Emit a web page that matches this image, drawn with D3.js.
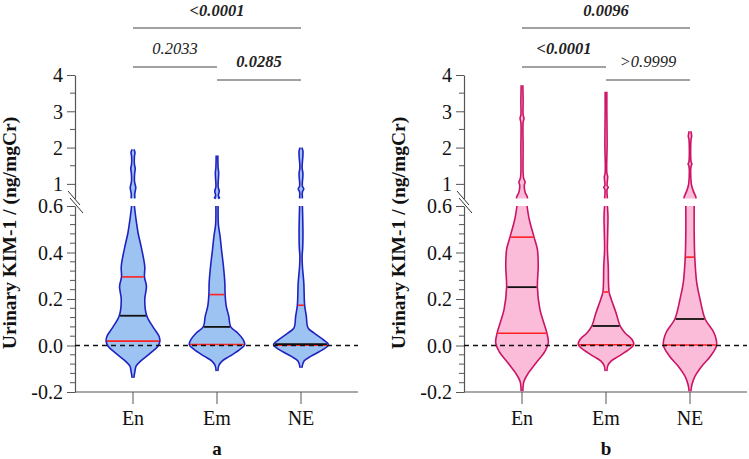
<!DOCTYPE html>
<html>
<head>
<meta charset="utf-8">
<script src="https://cdn.jsdelivr.net/npm/d3@7"></script>
<style>
  html, body { margin: 0; padding: 0; background: #fff; }
  svg { display: block; }
  text { font-family: "Liberation Serif", "Times New Roman", Times, serif; }
</style>
</head>
<body>
<svg id="chart" width="749" height="459"></svg>
<script>
// ---------------- DATA ----------------
const categories = ["En", "Em", "NE"];
const panelLabels = ["a", "b"];
const yTitle = "Urinary KIM-1 / (ng/mgCr)";

const upperTicks = [1, 2, 3, 4];
const upperMinorTicks = [1.5, 2.5, 3.5];
const lowerTicks = [-0.2, 0.0, 0.2, 0.4, 0.6];
const lowerTickLabels = ["-0.2", "0.0", "0.2", "0.4", "0.6"];
const upperTickLabels = ["1", "2", "3", "4"];

// violin profiles: [value, relative density]
const profileA_En = [[-0.139,0.03],[-0.11,0.07],[-0.089,0.11],[-0.067,0.27],[-0.032,0.63],[-0.003,0.89],[0.019,0.96],[0.04,0.93],[0.077,0.73],[0.128,0.49],[0.198,0.42],[0.254,0.48],[0.295,0.41],[0.34,0.42],[0.42,0.30],[0.485,0.18],[0.55,0.10],[0.6,0.05]];
const profileA_Em = [[-0.11,0.03],[-0.085,0.07],[-0.067,0.18],[-0.046,0.46],[-0.017,0.82],[0.004,0.99],[0.026,0.93],[0.054,0.74],[0.08,0.49],[0.126,0.42],[0.169,0.33],[0.219,0.29],[0.27,0.28],[0.341,0.23],[0.413,0.16],[0.47,0.11],[0.52,0.05],[0.6,0.04]];
const profileA_NE = [[-0.096,0.03],[-0.067,0.11],[-0.046,0.36],[-0.017,0.79],[0.003,0.98],[0.026,0.78],[0.054,0.46],[0.076,0.25],[0.126,0.19],[0.173,0.13],[0.27,0.10],[0.341,0.05],[0.384,0.04],[0.42,0.06],[0.486,0.07],[0.6,0.05]];
const profileA_En_up = [[0.6,0.07],[0.7,0.06],[0.8,0.08],[0.9,0.10],[1.0,0.07],[1.1,0.05],[1.3,0.06],[1.42,0.08],[1.55,0.05],[1.75,0.05],[1.87,0.07],[1.95,0.03]];
const profileA_Em_up = [[0.6,0.04],[0.62,0.09],[0.67,0.05],[0.8,0.08],[0.92,0.04],[1.3,0.06],[1.45,0.04],[1.78,0.03]];
const profileA_NE_up = [[0.6,0.05],[0.78,0.05],[0.86,0.10],[0.94,0.05],[1.28,0.07],[1.45,0.04],[1.9,0.07],[2.0,0.03]];

const profileB_En = [[-0.197,0.03],[-0.154,0.07],[-0.118,0.23],[-0.075,0.50],[-0.025,0.82],[0.011,0.94],[0.053,0.89],[0.097,0.78],[0.155,0.64],[0.251,0.55],[0.341,0.58],[0.413,0.55],[0.466,0.43],[0.542,0.26],[0.6,0.18]];
const profileB_Em = [[-0.11,0.03],[-0.085,0.07],[-0.067,0.18],[-0.046,0.46],[-0.017,0.82],[0.003,0.99],[0.026,0.93],[0.054,0.68],[0.083,0.51],[0.14,0.36],[0.198,0.19],[0.23,0.11],[0.27,0.09],[0.341,0.08],[0.413,0.05],[0.484,0.06],[0.556,0.07],[0.6,0.05]];
const profileB_NE = [[-0.197,0.03],[-0.168,0.07],[-0.132,0.18],[-0.089,0.42],[-0.046,0.73],[0.002,0.95],[0.054,0.86],[0.114,0.54],[0.198,0.36],[0.27,0.24],[0.38,0.17],[0.484,0.15],[0.6,0.15]];
const profileB_En_up = [[0.6,0.20],[0.66,0.18],[0.75,0.12],[0.85,0.09],[0.95,0.08],[1.05,0.11],[1.15,0.06],[1.3,0.04],[2.0,0.04],[2.7,0.04],[2.8,0.07],[2.9,0.04],[3.3,0.04],[3.72,0.03]];
const profileB_Em_up = [[0.6,0.05],[0.85,0.04],[0.9,0.08],[0.96,0.04],[1.2,0.06],[1.3,0.03],[2.1,0.04],[3.0,0.03],[3.54,0.03]];
const profileB_NE_up = [[0.6,0.22],[0.66,0.20],[0.8,0.12],[0.95,0.06],[1.05,0.04],[1.5,0.04],[1.55,0.07],[1.6,0.04],[2.25,0.04],[2.3,0.06],[2.45,0.03]];

// quartiles: [Q1, median, Q3]
const quartilesA = [[0.019,0.128,0.295],[0.004,0.080,0.219],[0.001,0.006,0.173]];
const quartilesB = [[0.053,0.251,0.466],[0.003,0.084,0.230],[0.002,0.114,0.380]];

// p-value comparisons (level: 0 = top)
const pvalsA = [
  {from:"En", to:"NE", label:"<0.0001", bold:true,  level:0},
  {from:"En", to:"Em", label:"0.2033",  bold:false, level:1},
  {from:"Em", to:"NE", label:"0.0285",  bold:true,  level:2}
];
const pvalsB = [
  {from:"En", to:"NE", label:"0.0096",  bold:true,  level:0},
  {from:"En", to:"Em", label:"<0.0001", bold:true,  level:1},
  {from:"Em", to:"NE", label:">0.9999", bold:false, level:2}
];

// ---------------- DRAW ----------------
const svg = d3.select("#chart");
const FONT = "'Liberation Serif', 'Times New Roman', Times, serif";

const panels = [
  { x0: 75, label: panelLabels[0], lower: [profileA_En, profileA_Em, profileA_NE], upper: [profileA_En_up, profileA_Em_up, profileA_NE_up], q: quartilesA, p: pvalsA, fill: "#9dc3f3", stroke: "#1f22c0" },
  { x0: 464, label: panelLabels[1], lower: [profileB_En, profileB_Em, profileB_NE], upper: [profileB_En_up, profileB_Em_up, profileB_NE_up], q: quartilesB, p: pvalsB, fill: "#fbbcd9", stroke: "#cc1466" }
];

const axisWidth = 283;
const yLow = d3.scaleLinear().domain([-0.2, 0.6]).range([392, 206]);
const yHigh = d3.scaleLinear().domain([0.6, 4]).range([198.4, 75]);
const wScale = d3.scaleLinear().domain([0, 1]).range([0, 28]);
const levelLineY = [28, 67, 80];
const levelTextY = [15.5, 53.5, 66.5];
const axisColor = "#555";

function interpDensity(profile, v) {
  for (let i = 0; i < profile.length - 1; i++) {
    const a = profile[i], b = profile[i + 1];
    if (v >= a[0] && v <= b[0]) {
      const t = (v - a[0]) / (b[0] - a[0]);
      return a[1] + t * (b[1] - a[1]);
    }
  }
  return 0;
}

panels.forEach(P => {
  const g = svg.append("g");
  const x = d3.scalePoint().domain(categories).range([P.x0 + 58, P.x0 + 226]);

  const axLow = d3.axisLeft(yLow).tickValues(lowerTicks).tickFormat((d, i) => lowerTickLabels[i]).tickSize(8).tickSizeOuter(0);
  const gLow = g.append("g").attr("transform", `translate(${P.x0},0)`).call(axLow);
  const lowerMinor = d3.range(-0.2, 0.6001, 0.04).filter(v => !lowerTicks.some(t => Math.abs(t - v) < 1e-6));
  g.append("g").selectAll("line").data(lowerMinor).join("line")
    .attr("x1", P.x0 - 5).attr("x2", P.x0).attr("y1", d => yLow(d)).attr("y2", d => yLow(d))
    .attr("stroke", axisColor).attr("stroke-width", 1);

  const axHigh = d3.axisLeft(yHigh).tickValues(upperTicks).tickFormat((d, i) => upperTickLabels[i]).tickSize(8).tickSizeOuter(0);
  const gHigh = g.append("g").attr("transform", `translate(${P.x0},0)`).call(axHigh);
  g.append("g").selectAll("line").data(upperMinorTicks).join("line")
    .attr("x1", P.x0 - 5).attr("x2", P.x0).attr("y1", d => yHigh(d)).attr("y2", d => yHigh(d))
    .attr("stroke", axisColor).attr("stroke-width", 1);

  [gLow, gHigh].forEach(ga => {
    ga.attr("font-family", FONT).attr("font-size", 20);
    ga.select(".domain").attr("stroke", axisColor).attr("stroke-width", 1.2);
    ga.selectAll(".tick line").attr("stroke", axisColor).attr("stroke-width", 1);
    ga.selectAll(".tick text").attr("fill", "#111").attr("x", -12).attr("dy", "0.34em");
  });

  // break marks
  const bm = g.append("g").attr("stroke", "#333").attr("stroke-width", 1);
  bm.append("line").attr("x1", P.x0 - 7).attr("y1", 191).attr("x2", P.x0 + 5).attr("y2", 205);
  bm.append("line").attr("x1", P.x0 - 5).attr("y1", 198).attr("x2", P.x0 + 8).attr("y2", 213);

  // x axis
  g.append("line").attr("x1", P.x0).attr("x2", P.x0 + axisWidth).attr("y1", yLow(-0.2)).attr("y2", yLow(-0.2))
    .attr("stroke", axisColor).attr("stroke-width", 1.2);

  categories.forEach(c => {
    g.append("line").attr("x1", x(c)).attr("x2", x(c)).attr("y1", yLow(-0.2)).attr("y2", yLow(-0.2) + 12)
      .attr("stroke", axisColor).attr("stroke-width", 1);
    g.append("text").attr("x", x(c)).attr("y", 425).attr("text-anchor", "middle")
      .attr("font-family", FONT).attr("font-size", 20).attr("fill", "#111").text(c);
  });

  g.append("text").attr("x", P.x0 + 142).attr("y", 455).attr("text-anchor", "middle")
    .attr("font-family", FONT).attr("font-size", 19).attr("font-weight", "bold").attr("fill", "#111").text(P.label);

  g.append("text").attr("transform", `translate(${P.x0 - 59},233) rotate(-90)`).attr("text-anchor", "middle")
    .attr("font-family", FONT).attr("font-size", 19.5).attr("font-weight", "bold").attr("fill", "#111").text(yTitle);

  categories.forEach((c, i) => {
    const cx = x(c);
    [[P.lower[i], yLow], [P.upper[i], yHigh]].forEach(([prof, ys]) => {
      const area = d3.area().curve(d3.curveCatmullRom.alpha(0.5))
        .y(d => ys(d[0])).x0(d => cx - wScale(d[1])).x1(d => cx + wScale(d[1]));
      g.append("path").datum(prof).attr("d", area).attr("fill", P.fill).attr("stroke", "none");
      [-1, 1].forEach(s => {
        const line = d3.line().curve(d3.curveCatmullRom.alpha(0.5))
          .y(d => ys(d[0])).x(d => cx + s * wScale(d[1]));
        g.append("path").datum(prof).attr("d", line).attr("fill", "none")
          .attr("stroke", P.stroke).attr("stroke-width", 1.6);
      });
    });
    const q = P.q[i];
    const lines = [[q[0], "#ff2020", 1.6], [q[2], "#ff2020", 1.6], [q[1], "#111", 1.8]];
    lines.forEach(([v, col, sw]) => {
      const hw = wScale(interpDensity(P.lower[i], v)) - 0.8;
      g.append("line").attr("x1", cx - hw).attr("x2", cx + hw).attr("y1", yLow(v)).attr("y2", yLow(v))
        .attr("stroke", col).attr("stroke-width", sw);
    });
  });

  g.append("line").attr("x1", P.x0).attr("x2", P.x0 + axisWidth).attr("y1", yLow(0)).attr("y2", yLow(0))
    .attr("stroke", "#111").attr("stroke-width", 1.6).attr("stroke-dasharray", "5,4");

  P.p.forEach(d => {
    const xa = x(d.from), xb = x(d.to);
    g.append("line").attr("x1", xa).attr("x2", xb).attr("y1", levelLineY[d.level]).attr("y2", levelLineY[d.level])
      .attr("stroke", "#444").attr("stroke-width", 1);
    g.append("text").attr("x", (xa + xb) / 2).attr("y", levelTextY[d.level]).attr("text-anchor", "middle")
      .attr("font-family", FONT).attr("font-size", 16.5).attr("font-style", "italic").attr("font-weight", d.bold ? "bold" : "normal")
      .attr("fill", "#222").text(d.label);
  });
});
</script>
</body>
</html>
